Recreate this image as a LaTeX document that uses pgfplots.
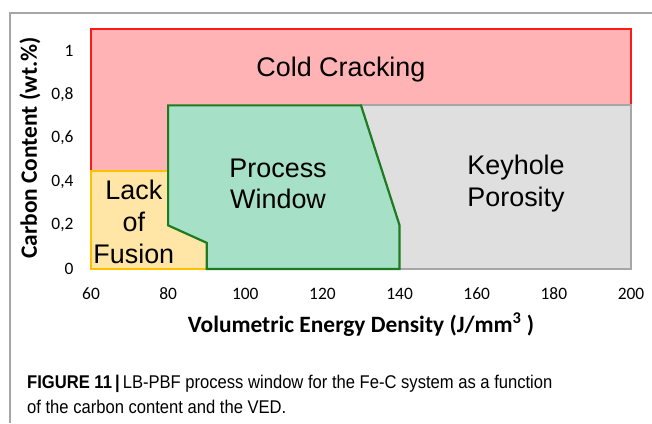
\documentclass[border=0pt]{standalone}
\usepackage{fontspec}
\setmainfont{Carlito}
\newfontfamily\arialfont{Liberation Sans}
\newfontfamily\capfont[FakeStretch=0.9]{Liberation Sans}
\usepackage{pgfplots}
\pgfplotsset{compat=1.18}
\definecolor{redfill}{HTML}{FFB3B5}
\definecolor{redline}{HTML}{FF1A1A}
\definecolor{yelfill}{HTML}{FFE6A6}
\definecolor{yelline}{HTML}{FFC000}
\definecolor{grnfill}{HTML}{A6E0C6}
\definecolor{grnline}{HTML}{1E7B22}
\definecolor{gryfill}{HTML}{DFDFDF}
\definecolor{gryline}{HTML}{A6A6A6}
\begin{document}
\begin{tikzpicture}[x=1bp,y=1bp]
\path[use as bounding box] (0,0) rectangle (652,-423);
\draw[color=gray!70, line width=1.5bp] (10,-423) -- (10,-13) -- (652,-13);
\begin{axis}[
  at={(91bp,-269bp)}, anchor=south west,
  scale only axis, width=540bp, height=240bp,
  xmin=60, xmax=200, ymin=0, ymax=1.1,
  clip=false,
  axis line style={draw=none},
  major tick length=0pt,
  tick style={draw=none},
  xtick={60,80,100,120,140,160,180,200},
  xticklabels={60,80,100,120,140,160,180,200},
  ytick={0,0.2,0.4,0.6,0.8,1},
  yticklabels={0,{0,2},{0,4},{0,6},{0,8},1},
  /pgf/number format/assume math mode=true,
  xticklabel style={font=\fontsize{17.5}{20}\selectfont, anchor=base, yshift=-30.5bp},
  yticklabel style={font=\fontsize{17.5}{20}\selectfont, xshift=-14bp},
  xlabel={\textbf{Volumetric Energy Density (J/mm\textsuperscript{3} )}},
  ylabel={\textbf{Carbon Content (wt.\%)}},
  xlabel style={font=\fontsize{23.5}{26}\selectfont, at={(axis description cs:0.5,0)}, anchor=center, yshift=-56bp},
  ylabel style={font=\fontsize{23.5}{26}\selectfont, at={(axis description cs:0,0.504)}, anchor=center, yshift=61bp},
]
% Cold cracking
\addplot[fill=redfill, draw=redline, line width=1.8bp] coordinates {(60,0.45) (60,1.1) (200,1.1) (200,0.45)} -- cycle;
% Keyhole porosity
\addplot[fill=gryfill, draw=gryline, line width=1.8bp] coordinates {(130,0) (130,0.75) (200,0.75) (200,0)} -- cycle;
% Lack of fusion
\addplot[fill=yelfill, draw=yelline, line width=1.8bp] coordinates {(60,0) (60,0.45) (80,0.45) (90,0.45) (90,0)} -- cycle;
% Process window
\addplot[fill=grnfill, draw=grnline, line width=2.2bp] coordinates {(80,0.75) (130,0.75) (140,0.2) (140,0) (90,0) (90,0.12) (80,0.2)} -- cycle;
\node[font=\arialfont\fontsize{27}{32}\selectfont, align=center] at (axis cs:124.8,0.913) {Cold Cracking};
\node[font=\arialfont\fontsize{27}{32}\selectfont, align=center] at (axis cs:108.5,0.39) {Process\\Window};
\node[font=\arialfont\fontsize{27}{32}\selectfont, align=center] at (axis cs:170.2,0.39) {Keyhole\\Porosity};
\node[font=\arialfont\fontsize{27}{32}\selectfont, align=center] at (axis cs:71.1,0.215) {Lack\\of\\Fusion};
\end{axis}
\node[anchor=base west, inner sep=0, font=\capfont\fontsize{18.5}{25}\selectfont] at (27,-388) {\textbf{FIGURE 11}\,\textbf{|}\,LB-PBF process window for the Fe-C system as a function};
\node[anchor=base west, inner sep=0, font=\capfont\fontsize{18.5}{25}\selectfont] at (27,-413) {of the carbon content and the VED.};
\end{tikzpicture}
\end{document}
